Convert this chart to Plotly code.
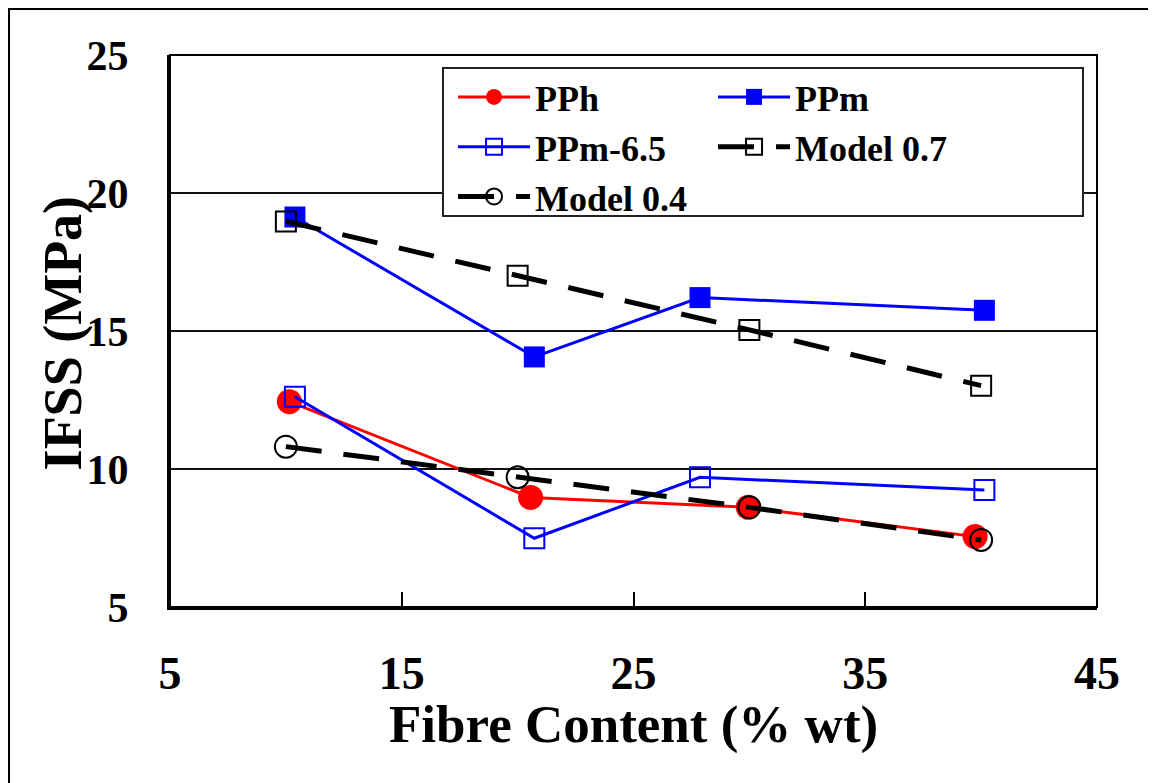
import plotly.graph_objects as go

# ─── Data ───────────────────────────────────────────────────────────
pph_x = [10.15, 20.56, 29.95, 39.74]
pph_y = [12.44, 8.97, 8.61, 7.55]

ppm_x = [10.39, 20.72, 27.87, 40.14]
ppm_y = [19.13, 14.06, 16.21, 15.75]

ppm65_x = [10.39, 20.72, 27.87, 40.14]
ppm65_y = [12.62, 7.49, 9.70, 9.24]

model07_x = [10, 20, 30, 40]
model07_y = [18.97, 17.0, 15.04, 13.02]

model04_x = [10, 20, 30, 40]
model04_y = [10.81, 9.70, 8.61, 7.43]

x_ticks = [5, 15, 25, 35, 45]
y_ticks = [5, 10, 15, 20, 25]

FONT = "Liberation Serif"

fig = go.Figure()

# left legend column: PPh, PPm-6.5, Model 0.4 / right column: PPm, Model 0.7
fig.add_trace(go.Scatter(
    x=pph_x, y=pph_y, name="PPh", mode="lines+markers", legend="legend",
    line=dict(color="#ff0000", width=3),
    marker=dict(symbol="circle", size=25, color="#ff0000"),
))
fig.add_trace(go.Scatter(
    x=ppm_x, y=ppm_y, name="PPm", mode="lines+markers", legend="legend2",
    line=dict(color="#0000ff", width=3),
    marker=dict(symbol="square", size=21, color="#0000ff"),
))
fig.add_trace(go.Scatter(
    x=ppm65_x, y=ppm65_y, name="PPm-6.5", mode="lines+markers", legend="legend",
    line=dict(color="#0000ff", width=3),
    marker=dict(symbol="square-open", size=20, color="#0000ff",
                line=dict(width=2, color="#0000ff")),
))
fig.add_trace(go.Scatter(
    x=model07_x, y=model07_y, name="Model 0.7", mode="lines+markers", legend="legend2",
    line=dict(color="#000000", width=5, dash="36px,22px"),
    marker=dict(symbol="square-open", size=20, color="#000000",
                line=dict(width=2, color="#000000")),
))
fig.add_trace(go.Scatter(
    x=model04_x, y=model04_y, name="Model 0.4", mode="lines+markers", legend="legend",
    line=dict(color="#000000", width=5, dash="36px,22px"),
    marker=dict(symbol="circle-open", size=22, color="#000000",
                line=dict(width=2, color="#000000")),
))

# plot-area frame (thin top/right)
fig.add_shape(type="rect", xref="paper", yref="paper", x0=0, x1=1, y0=0, y1=1,
              line=dict(color="#000000", width=2), layer="above")
# one box around both legend columns
fig.add_shape(type="rect", xref="paper", yref="paper",
              x0=0.2945, x1=0.9849, y0=0.7083, y1=0.9764,
              line=dict(color="#222222", width=2), fillcolor="white",
              layer="above")
# outer picture frame
fig.add_shape(type="path", xref="paper", yref="paper",
              path="M -0.1742,-0.5 L -0.1742,1.0842 L 1.2,1.0842",
              line=dict(color="#000000", width=3))

# axis titles as annotations so they can sit right against the tick labels
fig.add_annotation(
    text="IFSS (MPa)", xref="paper", yref="paper", x=-0.1150, y=0.4964,
    xanchor="center", yanchor="middle", textangle=-90, showarrow=False,
    font=dict(size=54, family=FONT, weight="bold", color="black"),
)
fig.add_annotation(
    text="Fibre Content (% wt)", xref="paper", yref="paper", x=0.4995, y=-0.2125,
    xanchor="center", yanchor="middle", showarrow=False,
    font=dict(size=53, family=FONT, weight="bold", color="black"),
)

legend_style = dict(
    orientation="v", y=0.9783, xanchor="left", yanchor="top",
    font=dict(size=36, family=FONT, weight="bold"),
    bgcolor="rgba(0,0,0,0)", borderwidth=0, itemwidth=72,
)

fig.update_layout(
    width=1156, height=783,
    paper_bgcolor="white", plot_bgcolor="white",
    font=dict(family=FONT, color="black", weight="bold"),
    margin=dict(l=162, r=67, t=47, b=184),
    showlegend=True,
    legend=dict(x=0.3053, **legend_style),
    legend2=dict(x=0.5858, **legend_style),
    xaxis=dict(
        range=[5, 45], tickvals=x_ticks, ticks="inside", ticklen=15,
        tickwidth=1.5, tickcolor="black",
        showline=True, linewidth=3, linecolor="black",
        showgrid=False, zeroline=False,
        tickfont=dict(size=46, family=FONT, weight="bold"),
        ticklabelstandoff=24,
    ),
    yaxis=dict(
        range=[5, 25], tickvals=y_ticks, ticks="",
        showline=True, linewidth=3, linecolor="black",
        showgrid=True, gridcolor="#111111", gridwidth=1.5,
        zeroline=False,
        tickfont=dict(size=42, family=FONT, weight="bold"),
        ticklabelstandoff=30,
    ),
)

fig.write_html("out.html")
